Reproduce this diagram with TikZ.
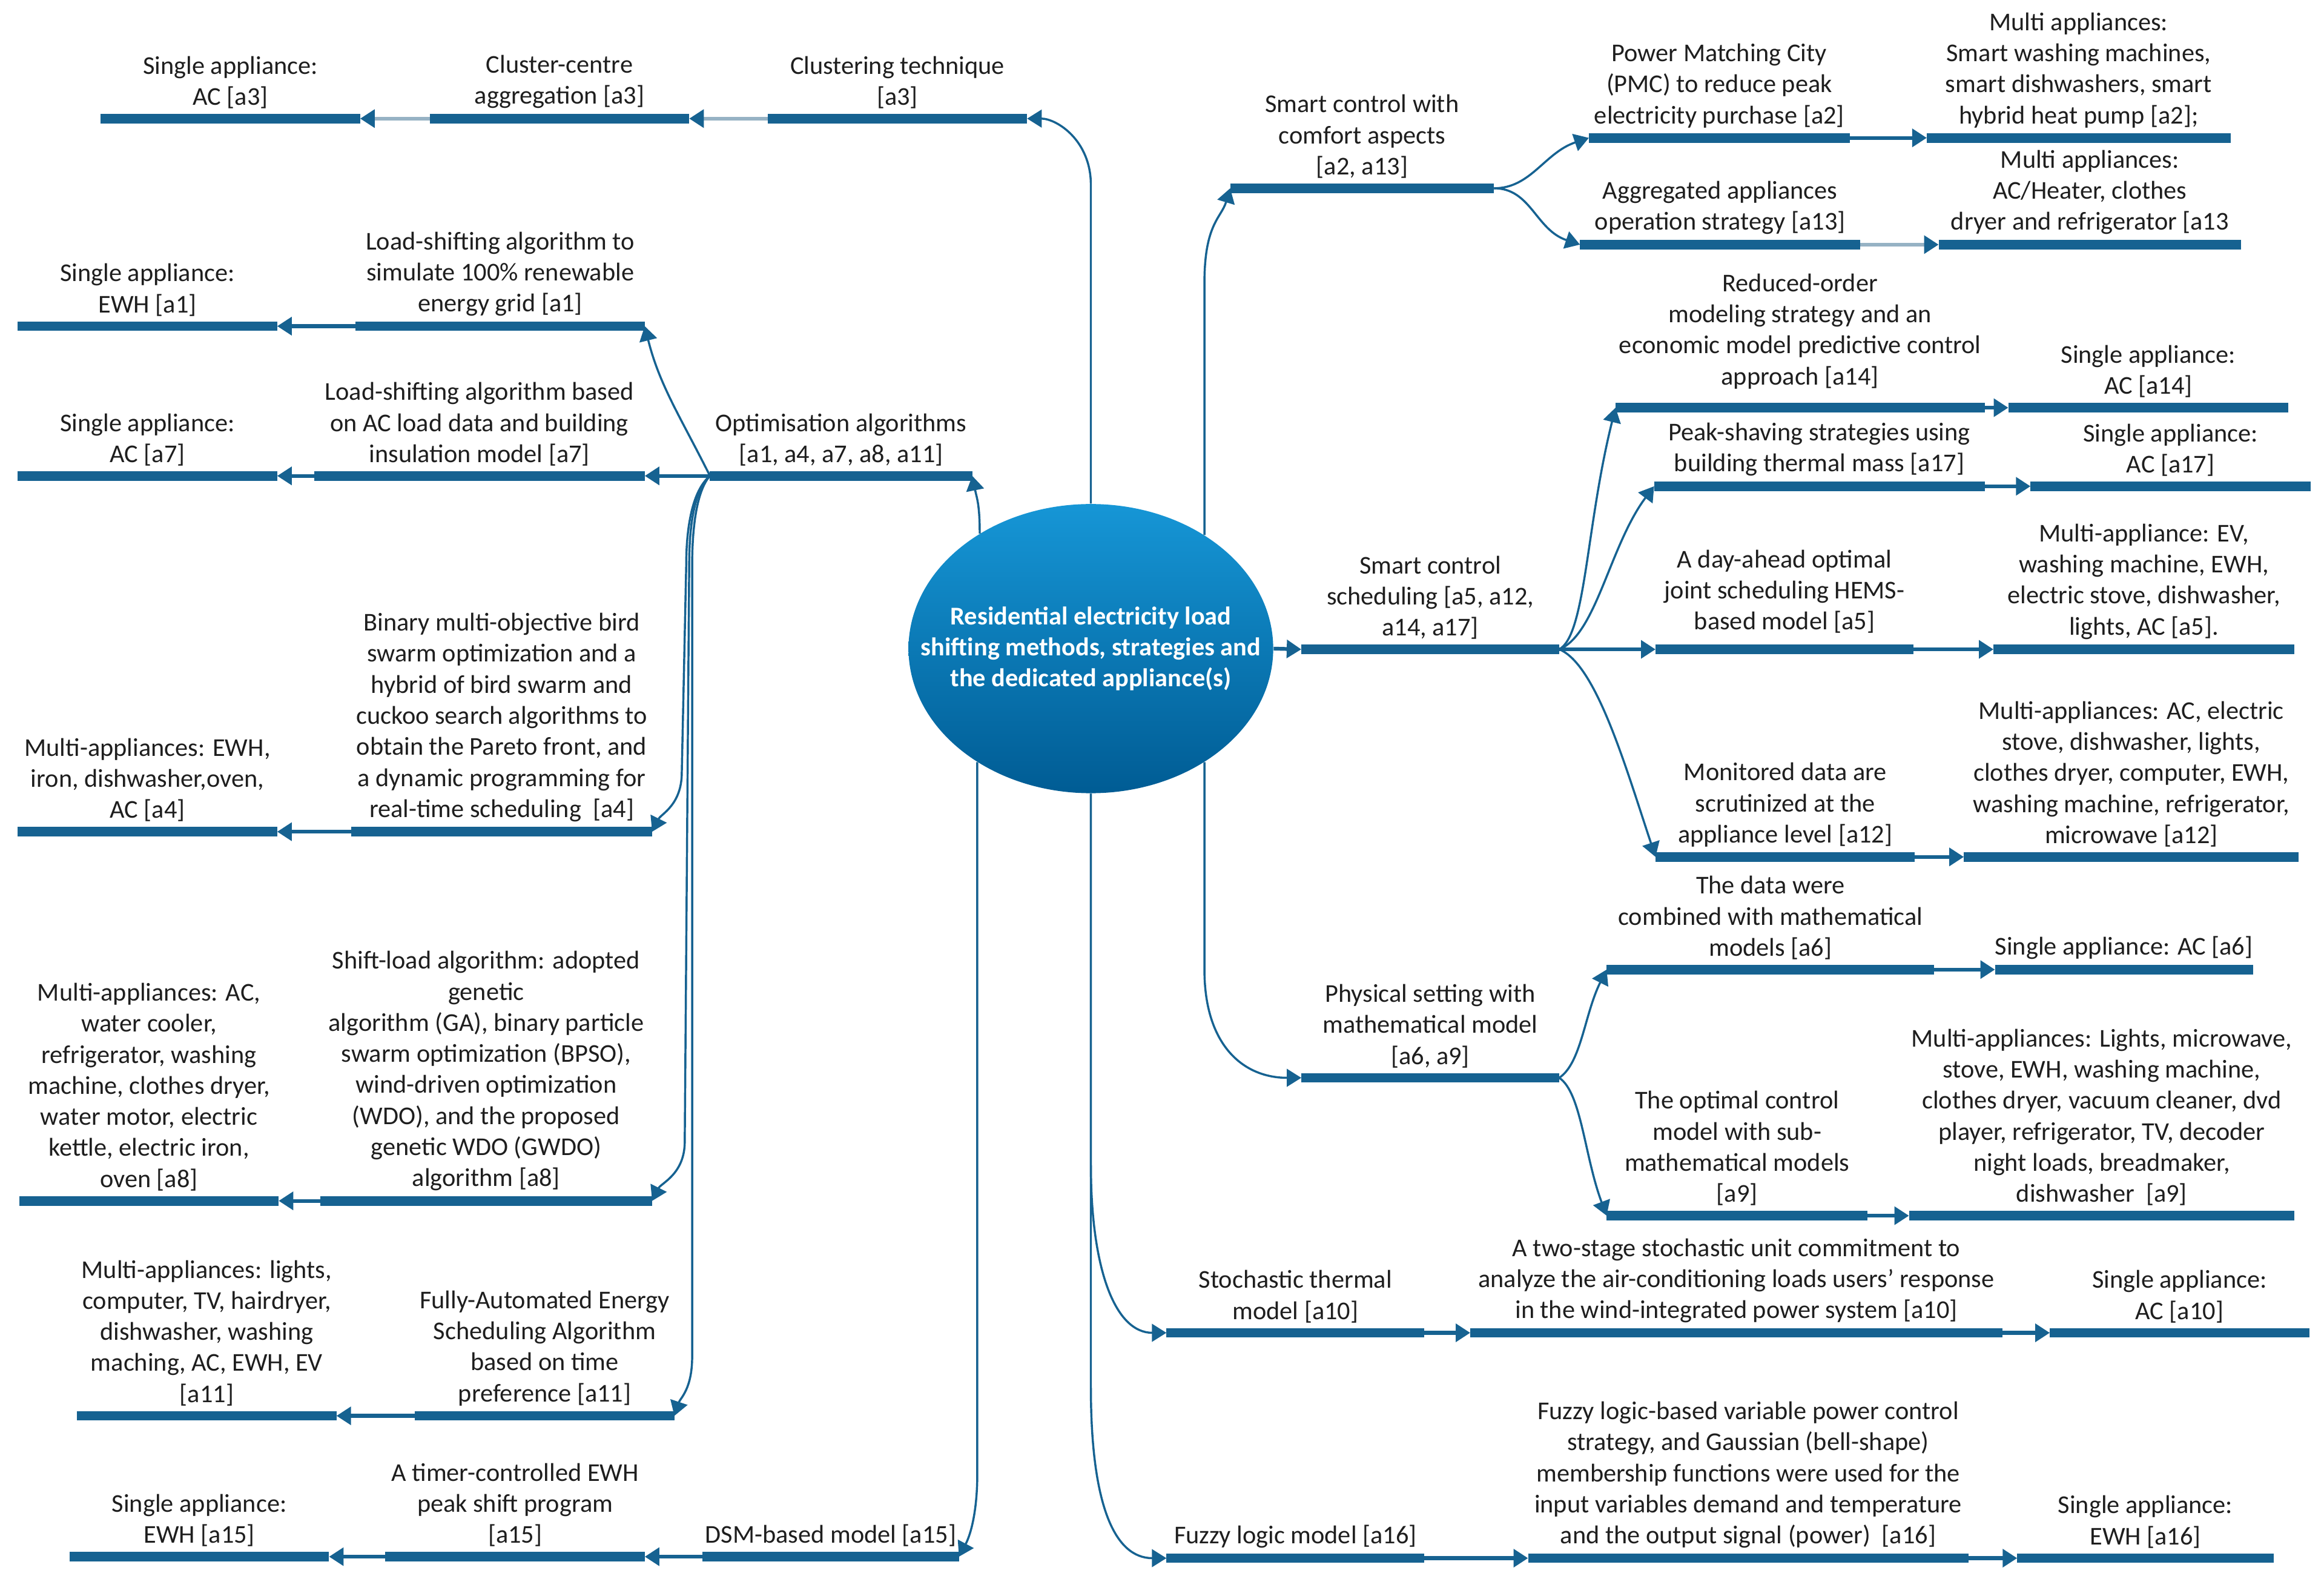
\documentclass[tikz,border=0pt]{standalone}
\usepackage{fontspec}
\setmainfont{Carlito}
\usetikzlibrary{arrows.meta,shapes.geometric,calc}
\definecolor{barblue}{RGB}{22,98,145}
\definecolor{lightconn}{RGB}{150,178,196}
\definecolor{elltop}{RGB}{22,150,214}
\definecolor{ellbot}{RGB}{0,92,148}
\definecolor{txt}{RGB}{30,30,30}
\newcommand\mmitem[6][0]{%
  \coordinate (#2-l) at (#3,#5);
  \coordinate (#2-r) at (#4,#5);
  \draw[bar] (#2-l) -- (#2-r);
  \node[lbl, anchor=south] (#2) at ({(#3+#4)/2},{#5-6.5-#1}) {#6};
}
\begin{document}
\begin{tikzpicture}[x=0.025cm, y=-0.025cm,
  bar/.style={line width=4.6pt, draw=barblue},
  lbl/.style={font=\fontsize{12.3}{14.9}\selectfont, align=center, inner sep=0pt, text=txt},
  conn/.style={line width=1.8pt, draw=barblue, -{Triangle[length=7pt,width=8.5pt,color=barblue]}},
  lconn/.style={conn, draw=lightconn},
  curve/.style={line width=1pt, draw=barblue, -{Triangle[length=7pt,width=8.5pt,color=barblue]}}]
\useasboundingbox[fill=white] (0,0) rectangle (1568,1063);

% central node
\node[ellipse, minimum width=6.15cm, minimum height=4.875cm, inner sep=0pt,
      top color=elltop, bottom color=ellbot, draw=none] (core) at (736,437.5) {};
\node[font=\bfseries\fontsize{12.3}{14.9}\selectfont, text=white, align=center] (coretext) at (core.center)
  {Residential electricity load\\shifting methods, strategies and\\the dedicated appliance(s)};

% ---------------- left side ----------------
\mmitem{cl3}{518}{693}{80}{Clustering technique\\{}[a3]}
\mmitem{cc3}{290}{465}{80}{Cluster-centre\\aggregation [a3]}
\mmitem{sa3}{68}{243}{80}{Single appliance:\\AC [a3]}

\mmitem{ls1}{240}{435}{220}{Load-shifting algorithm to\\simulate 100\% renewable\\energy grid [a1]}
\mmitem{sa1}{12}{187}{220}{Single appliance:\\EWH [a1]}

\mmitem{opt}{479}{656}{321}{Optimisation algorithms\\{}[a1, a4, a7, a8, a11]}
\mmitem{ls7}{212}{435}{321}{Load-shifting algorithm based\\on AC load data and building\\insulation model [a7]}
\mmitem{sa7}{12}{187}{321}{Single appliance:\\AC [a7]}

\mmitem{bm4}{237}{440}{561}{Binary multi-objective bird\\swarm optimization and a\\hybrid of bird swarm and\\cuckoo search algorithms to\\obtain the Pareto front, and\\a dynamic programming for\\real-time scheduling~ [a4]}
\mmitem{ma4}{12}{187}{561}{Multi-appliances: EWH,\\iron, dishwasher,oven,\\AC [a4]}

\mmitem{sl8}{216}{440}{810}{Shift-load algorithm: adopted\\genetic\\algorithm (GA), binary particle\\swarm optimization (BPSO),\\wind-driven optimization\\(WDO), and the proposed\\genetic WDO (GWDO)\\algorithm [a8]}
\mmitem{ma8}{13}{188}{810}{Multi-appliances: AC,\\water cooler,\\refrigerator, washing\\machine, clothes dryer,\\water motor, electric\\kettle, electric iron,\\oven [a8]}

\mmitem{fa11}{280}{455}{955}{Fully-Automated Energy\\Scheduling Algorithm\\based on time\\preference [a11]}
\mmitem{ma11}{52}{227}{955}{Multi-appliances: lights,\\computer, TV, hairdryer,\\dishwasher, washing\\maching, AC, EWH, EV\\{}[a11]}

\mmitem{dsm}{474}{647}{1050}{DSM-based model [a15]}
\mmitem{tc15}{260}{435}{1050}{A timer-controlled EWH\\peak shift program\\{}[a15]}
\mmitem{sa15}{47}{222}{1050}{Single appliance:\\EWH [a15]}

% ---------------- right side ----------------
\mmitem{sc}{830}{1008}{127}{Smart control with\\comfort aspects\\{}[a2, a13]}
\mmitem{pmc}{1072}{1248}{93}{Power Matching City\\(PMC) to reduce peak\\electricity purchase [a2]}
\mmitem{ag13}{1066}{1255}{165}{Aggregated appliances\\operation strategy [a13]}
\mmitem{ma2}{1300}{1505}{93}{Multi appliances:\\Smart washing machines,\\smart dishwashers, smart\\hybrid heat pump [a2];}
\mmitem{ma13}{1308}{1512}{165}{Multi appliances:\\AC/Heater, clothes\\dryer and refrigerator [a13}

\mmitem{ss}{878}{1052}{438}{Smart control\\scheduling [a5, a12,\\a14, a17]}
\mmitem[6]{ro14}{1090}{1339}{275}{Reduced-order\\modeling strategy and an\\economic model predictive control\\approach [a14]}
\mmitem{sa14}{1355}{1544}{275}{Single appliance:\\AC [a14]}
\mmitem{ps17}{1116}{1339}{328}{Peak-shaving strategies using\\building thermal mass [a17]}
\mmitem{sa17}{1370}{1559}{328}{Single appliance:\\AC [a17]}
\mmitem[4]{da5}{1117}{1291}{438}{A day-ahead optimal\\joint scheduling HEMS-\\based model [a5]}
\mmitem{ma5}{1345}{1548}{438}{Multi-appliance: EV,\\washing machine, EWH,\\electric stove, dishwasher,\\lights, AC [a5].}
\mmitem{md12}{1117}{1292}{578}{Monitored data are\\scrutinized at the\\appliance level [a12]}
\mmitem{ma12}{1325}{1551}{578}{Multi-appliances: AC, electric\\stove, dishwasher, lights,\\clothes dryer, computer, EWH,\\washing machine, refrigerator,\\microwave [a12]}

\mmitem{phy}{878}{1052}{727}{Physical setting with\\mathematical model\\{}[a6, a9]}
\mmitem{dw6}{1084}{1305}{654}{The data were\\combined with mathematical\\models [a6]}
\mmitem{sa6}{1346}{1520}{654}{Single appliance: AC [a6]}
\mmitem{oc9}{1084}{1260}{820}{The optimal control\\model with sub-\\mathematical models\\{}[a9]}
\mmitem{ma9}{1288}{1548}{820}{Multi-appliances: Lights, microwave,\\stove, EWH, washing machine,\\clothes dryer, vacuum cleaner, dvd\\player, refrigerator, TV, decoder\\night loads, breadmaker,\\dishwasher~ [a9]}

\mmitem{st10}{787}{961}{899}{Stochastic thermal\\model [a10]}
\mmitem{ts10}{992}{1351}{899}{A two-stage stochastic unit commitment to\\analyze the air-conditioning loads users’ response\\in the wind-integrated power system [a10]}
\mmitem{sa10}{1383}{1558}{899}{Single appliance:\\AC [a10]}

\mmitem{fz16}{787}{961}{1051}{Fuzzy logic model [a16]}
\mmitem{fl16}{1031}{1328}{1051}{Fuzzy logic-based variable power control\\strategy, and Gaussian (bell-shape)\\membership functions were used for the\\input variables demand and temperature\\and the output signal (power)~ [a16]}
\mmitem{sa16}{1361}{1534}{1051}{Single appliance:\\EWH [a16]}

% ---------------- connectors: left ----------------
\draw[curve] (core.north) -- ++(0,-215) .. controls +(0,-30) and +(20,0) .. (cl3-r);
\draw[lconn] (cl3-l) -- (cc3-r);
\draw[lconn] (cc3-l) -- (sa3-r);

\draw[curve] (core.134) .. controls +(0,-20) and +(3,15) .. (opt-r);
\draw[conn] (opt-l) -- (ls7-r);
\draw[conn] (ls7-l) -- (sa7-r);
\draw[curve] (opt-l) .. controls +(-20,-40) and +(10,40) .. (ls1-r);
\draw[conn] (ls1-l) -- (sa1-r);
\draw[curve] (opt-l) .. controls +(-12,10) and +(0,-25) .. ++(-16,60)
  -- ($(bm4-r)+(20,-40)$) .. controls +(0,22) and +(6,-12) .. (bm4-r);
\draw[conn] (bm4-l) -- (ma4-r);
\draw[curve] (opt-l) .. controls +(-11,10) and +(0,-25) .. ++(-14,60)
  -- ($(sl8-r)+(22,-40)$) .. controls +(0,22) and +(6,-12) .. (sl8-r);
\draw[conn] (sl8-l) -- (ma8-r);
\draw[curve] (opt-l) .. controls +(-9,10) and +(0,-25) .. ++(-12,60)
  -- ($(fa11-r)+(12,-40)$) .. controls +(0,22) and +(4,-12) .. (fa11-r);
\draw[conn] (fa11-l) -- (ma11-r);

\draw[curve] (core.225) -- ++(0,480) .. controls +(0,25) and +(8,-15) .. (dsm-r);
\draw[conn] (dsm-l) -- (tc15-r);
\draw[conn] (tc15-l) -- (sa15-r);

% ---------------- connectors: right ----------------
\draw[curve] (core.45) -- ++(0,-170) .. controls +(0,-40) and +(-6,20) .. (sc-l);
\draw[curve] (sc-r) .. controls +(25,0) and +(-30,10) .. (pmc-l);
\draw[curve] (sc-r) .. controls +(25,0) and +(-30,-10) .. (ag13-l);
\draw[conn] (pmc-r) -- (ma2-l);
\draw[lconn] (ag13-r) -- (ma13-l);

\draw[conn] (core.east) -- (ss-l);
\draw[curve] (ss-r) .. controls +(18,-10) and +(-20,80) .. (ro14-l);
\draw[curve] (ss-r) .. controls +(25,-10) and +(-30,40) .. (ps17-l);
\draw[conn] (ss-r) -- (da5-l);
\draw[curve] (ss-r) .. controls +(25,10) and +(-20,-60) .. (md12-l);
\draw[conn] (ro14-r) -- (sa14-l);
\draw[conn] (ps17-r) -- (sa17-l);
\draw[conn] (da5-r) -- (ma5-l);
\draw[conn] (md12-r) -- (ma12-l);

\draw[curve] (core.315) -- ++(0,140) .. controls +(0,50) and +(-40,0) .. (phy-l);
\draw[curve] (phy-r) .. controls +(15,-10) and +(-15,30) .. (dw6-l);
\draw[curve] (phy-r) .. controls +(15,10) and +(-15,-40) .. (oc9-l);
\draw[conn] (dw6-r) -- (sa6-l);
\draw[conn] (oc9-r) -- (ma9-l);

\draw[curve] (core.south) -- ++(0,250) .. controls +(0,70) and +(-35,0) .. (st10-l);
\draw[conn] (st10-r) -- (ts10-l);
\draw[conn] (ts10-r) -- (sa10-l);
\draw[curve] (core.south) -- ++(0,400) .. controls +(0,80) and +(-35,0) .. (fz16-l);
\draw[conn] (fz16-r) -- (fl16-l);
\draw[conn] (fl16-r) -- (sa16-l);
\end{tikzpicture}
\end{document}
